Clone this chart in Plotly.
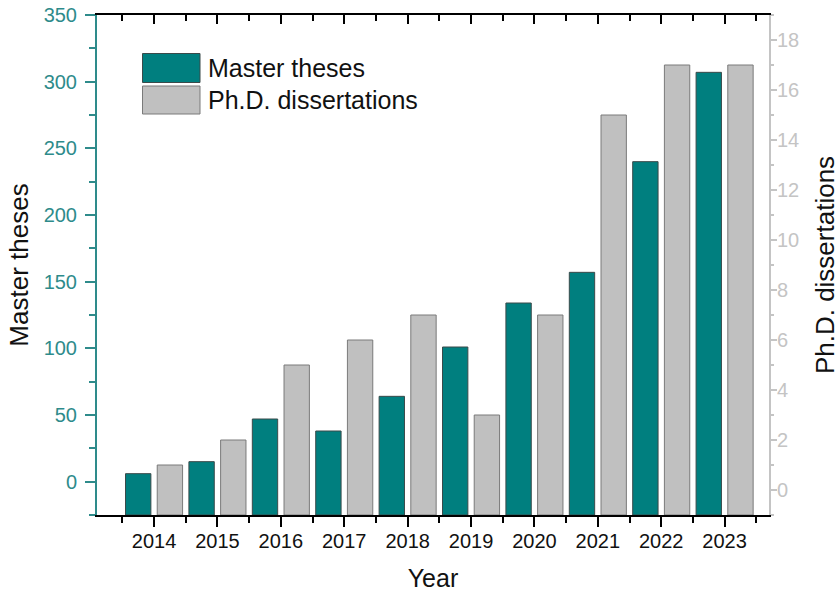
import plotly.graph_objects as go

years = [2014, 2015, 2016, 2017, 2018, 2019, 2020, 2021, 2022, 2023]
master_theses = [6, 15, 47, 38, 64, 101, 134, 157, 240, 307]
phd_dissertations = [1, 2, 5, 6, 7, 3, 7, 15, 17, 17]

# axis ranges (bars are drawn up from the bottom of each axis, as in the original)
master_range = [-25, 350]
phd_range = [-1, 19]

TEAL = "#007F7F"
TEAL_AX = "#2E8B8B"
GRAY = "#C0C0C0"
GRAY_AX = "#C4C4C4"
FONT = "Liberation Sans, Arial, sans-serif"

W, H = 840, 593
ML, MR, MT, MB = 97, 71, 15, 78

fig = go.Figure()
fig.add_trace(go.Bar(
    x=years, y=[v - master_range[0] for v in master_theses], base=master_range[0],
    customdata=master_theses, hovertemplate="%{x}: %{customdata}<extra>Master theses</extra>",
    name="Master theses",
    width=0.4, offset=-0.45,
    marker=dict(color=TEAL, line=dict(color="#3a4a4a", width=1)),
    xaxis="x", yaxis="y", showlegend=False,
))
fig.add_trace(go.Bar(
    x=years, y=[v - phd_range[0] for v in phd_dissertations], base=phd_range[0],
    customdata=phd_dissertations, hovertemplate="%{x}: %{customdata}<extra>Ph.D. dissertations</extra>",
    name="Ph.D. dissertations",
    width=0.4, offset=0.05,
    marker=dict(color=GRAY, line=dict(color="#7a7a7a", width=1)),
    xaxis="x2", yaxis="y2", showlegend=False,
))

xr = [2013.1, 2023.7]
fig.update_layout(
    width=W, height=H,
    margin=dict(l=ML, r=MR, t=MT, b=MB, autoexpand=False),
    plot_bgcolor="white", paper_bgcolor="white",
    font=dict(family=FONT, color="black"),
    xaxis=dict(
        range=xr, tickmode="linear", tick0=2014, dtick=1,
        ticks="outside", ticklen=10, tickwidth=1.5, tickcolor="black",
        minor=dict(tick0=2013.5, dtick=0.5, ticks="outside", ticklen=6, tickwidth=1.5, tickcolor="black"),
        showline=True, linecolor="black", linewidth=1.5,
        showgrid=False, zeroline=False,
        tickfont=dict(size=20, color="#111111"),
        title=dict(text="Year", font=dict(size=25, color="#111111"), standoff=19),
        ticklabelstandoff=-3,
    ),
    xaxis2=dict(
        range=xr, overlaying="x", side="top", anchor="y2", matches="x",
        tickmode="linear", tick0=2014, dtick=1,
        ticks="inside", ticklen=9, tickwidth=1.5, tickcolor="black",
        minor=dict(tick0=2013.5, dtick=0.5, ticks="inside", ticklen=6, tickwidth=1.5, tickcolor="black"),
        showline=True, linecolor="black", linewidth=1.5,
        showgrid=False, zeroline=False, showticklabels=False,
    ),
    yaxis=dict(
        range=master_range, tickmode="linear", tick0=0, dtick=50,
        ticks="outside", ticklen=10, tickwidth=1.5, tickcolor=TEAL_AX,
        minor=dict(tick0=0, dtick=25, ticks="outside", ticklen=6, tickwidth=1.5, tickcolor=TEAL_AX),
        showline=True, linecolor=TEAL_AX, linewidth=2,
        showgrid=False, zeroline=False,
        tickfont=dict(size=20, color=TEAL_AX),
        title=dict(text="Master theses", font=dict(size=26, color="#111111"), standoff=8),
        ticklabelstandoff=4,
    ),
    yaxis2=dict(
        range=phd_range, overlaying="y", side="right", anchor="x2",
        tickmode="linear", tick0=0, dtick=2,
        ticks="outside", ticklen=6, tickwidth=1.5, tickcolor=GRAY_AX,
        minor=dict(tick0=0, dtick=1, ticks="outside", ticklen=3, tickwidth=1.5, tickcolor=GRAY_AX),
        showline=True, linecolor=GRAY_AX, linewidth=2,
        showgrid=False, zeroline=False,
        tickfont=dict(size=20, color=GRAY_AX),
        title=dict(text="Ph.D. dissertations", font=dict(size=26, color="#111111"), standoff=21),
        ticklabelstandoff=-4,
    ),
)

# custom legend (large swatches as in the original)
pw, ph = W - ML - MR, H - MT - MB
def px2paper(xp, yp):
    return (xp - ML) / pw, 1 - (yp - MT) / ph

entries = [("Master theses", TEAL, "#3a4a4a", 53.5, 82.5),
           ("Ph.D. dissertations", GRAY, "#7a7a7a", 86, 114)]
for label, fill, edge, y0p, y1p in entries:
    x0, y0 = px2paper(142.5, y0p)
    x1, y1 = px2paper(200, y1p)
    fig.add_shape(type="rect", xref="paper", yref="paper",
                  x0=x0, x1=x1, y0=y1, y1=y0,
                  fillcolor=fill, line=dict(color=edge, width=1))
    tx, ty = px2paper(206, (y0p + y1p) / 2)
    fig.add_annotation(xref="paper", yref="paper", x=tx, y=ty,
                       text=label, showarrow=False, xanchor="left", yanchor="middle",
                       font=dict(size=25, color="#111111", family=FONT))

fig.write_html("out.html", config={"displayModeBar": False},
               post_script="document.body.style.margin='0';document.body.style.overflow='hidden';")
